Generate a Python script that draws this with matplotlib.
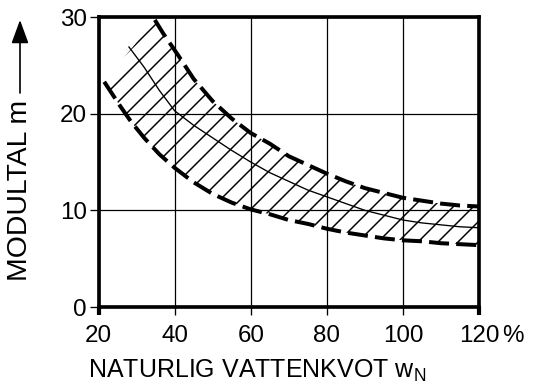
import matplotlib
matplotlib.use("Agg")
import matplotlib.pyplot as plt
import numpy as np

# Water content (%) vs. modulus number m: upper bound, mean curve, lower bound
x_upper = [34.8, 37, 41, 45, 50, 55, 60, 65, 70, 75, 80, 85, 90, 95, 100, 105, 110, 115, 120]
y_upper = [29.7, 28.3, 26.0, 23.6, 21.3, 19.5, 18.0, 16.9, 15.6, 14.7, 13.8, 13.0, 12.3, 11.8, 11.3, 11.0, 10.7, 10.5, 10.4]

x_mean = [28, 32, 36, 40, 45, 50, 55, 60, 65, 70, 75, 80, 85, 90, 95, 100, 105, 110, 115, 120]
y_mean = [26.9, 24.8, 22.4, 20.3, 18.8, 17.5, 16.2, 15.0, 13.9, 13.0, 12.1, 11.4, 10.7, 10.0, 9.5, 9.0, 8.7, 8.5, 8.3, 8.2]

x_lower = [21.5, 25.5, 28.5, 32, 36, 40, 45, 50, 55, 60, 65, 70, 75, 80, 85, 90, 95, 100, 105, 110, 115, 120]
y_lower = [23.3, 20.9, 19.2, 17.5, 15.8, 14.4, 12.9, 11.7, 10.8, 10.1, 9.6, 9.0, 8.6, 8.1, 7.7, 7.4, 7.1, 6.9, 6.8, 6.6, 6.5, 6.4]

x_ticks = [20, 40, 60, 80, 100, 120]
x_ticklabels = ["20", "40", "60", "80", "100", "120"]
y_ticks = [0, 10, 20, 30]
y_ticklabels = ["0", "10", "20", "30"]

DPI = 120
plt.rcParams["font.family"] = ["Liberation Sans", "DejaVu Sans"]
plt.rcParams["hatch.linewidth"] = 0.9

fig = plt.figure(figsize=(534 / DPI, 387 / DPI), dpi=DPI)
ax = fig.add_axes([0.1845, 0.2067, 0.897 - 0.1845, 0.956 - 0.2067])

ax.set_xlim(20, 120)
ax.set_ylim(0, 30)

# grid
ax.set_axisbelow(True)
ax.grid(True, color="black", linewidth=0.75)

# hatched band between the bounds
band_x = list(x_lower) + list(x_upper[::-1])
band_y = list(y_lower) + list(y_upper[::-1])
ax.fill(band_x, band_y, facecolor="none", edgecolor="black", hatch="//", linewidth=0, zorder=2)

dash = (0, (5.0, 1.8))
ax.plot(x_upper, y_upper, color="black", lw=2.4, linestyle=dash, dash_capstyle="butt", zorder=3)
ax.plot(x_lower, y_lower, color="black", lw=2.4, linestyle=dash, dash_capstyle="butt", zorder=3)
ax.plot(x_mean, y_mean, color="black", lw=0.8, zorder=3)

for s in ax.spines.values():
    s.set_linewidth(2.2)
    s.set_color("black")

ax.set_xticks(x_ticks)
ax.set_xticklabels(x_ticklabels)
ax.set_yticks(y_ticks)
ax.set_yticklabels(y_ticklabels)
ax.tick_params(axis="y", direction="out", length=5.5, width=0.8, pad=1.5, labelsize=14.5)
ax.tick_params(axis="x", direction="out", length=5, width=0.8, pad=5.5, labelsize=14.5)
for t in (ax.xaxis.get_major_ticks()[0], ax.xaxis.get_major_ticks()[-1]):
    t.tick1line.set_markeredgewidth(2.5)

# percent sign after the last x tick label
ax.annotate("%", xy=(120, 0), xycoords="data", xytext=(14, -10.8), textcoords="offset points",
            ha="left", va="top", fontsize=14.5)

# axis titles
fig.text(88 / 534, 1 - 378 / 387, "NATURLIG VATTENKVOT w$_\\mathregular{N}$",
         ha="left", va="baseline", fontsize=15)
fig.text(20 / 534, 1 - 281 / 387, "MODULTAL m", rotation=90, ha="center", va="bottom", fontsize=17)
fig.add_artist(matplotlib.patches.FancyArrowPatch(
    (20 / 534, 1 - 93 / 387), (20 / 534, 1 - 20 / 387), transform=fig.transFigure,
    arrowstyle="-|>,head_length=0.6,head_width=0.22", mutation_scale=20,
    color="black", lw=1.0, shrinkA=0, shrinkB=0))

fig.savefig("out.png", dpi=DPI)
